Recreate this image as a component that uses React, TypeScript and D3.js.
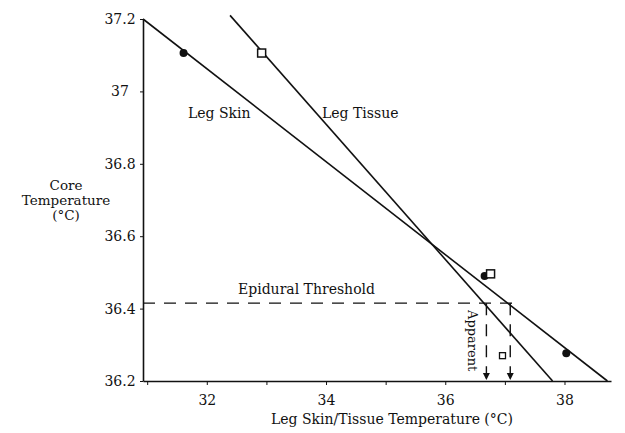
import React, { useEffect, useRef } from "react";
import * as d3 from "d3";

// regression lines (endpoints)
const skinLine = [
  { x: 30.93, y: 37.2 },
  { x: 38.72, y: 36.2 },
];
const tissueLine = [
  { x: 32.39, y: 37.21 },
  { x: 37.8, y: 36.2 },
];

// measured points
const skinPoints = [
  { x: 31.61, y: 37.106 },
  { x: 36.66, y: 36.49 },
  { x: 38.03, y: 36.277 },
];
const tissuePoints = [
  { x: 32.92, y: 37.106 },
  { x: 36.76, y: 36.496 },
];
const smallSquare = [{ x: 36.96, y: 36.27 }];

const threshold = 36.415;
const thresholdEnd = 37.12;
const apparentX = [36.69, 37.09];

const xTicks = [31, 32, 33, 34, 35, 36, 37, 38];
const xTickLabels = [32, 34, 36, 38];
const yTicks = [36.2, 36.4, 36.6, 36.8, 37, 37.2];

const FONT = "DejaVu Serif";

function App() {
  const svgRef = useRef(null);

  useEffect(() => {
    const svg = d3.select(svgRef.current);
    svg.selectAll("*").remove();

    const xScale = d3.scaleLinear().domain([30.93, 38.78]).range([143, 611]);
    const yScale = d3.scaleLinear().domain([36.2, 37.2]).range([381, 19]);

    svg
      .append("defs")
      .append("marker")
      .attr("id", "arrow")
      .attr("viewBox", "0 0 10 10")
      .attr("refX", 10)
      .attr("refY", 5)
      .attr("markerWidth", 7)
      .attr("markerHeight", 9)
      .attr("markerUnits", "userSpaceOnUse")
      .attr("orient", "auto")
      .append("path")
      .attr("d", "M0,0L10,5L0,10Z")
      .attr("fill", "#111");

    // x axis
    const xAxis = d3
      .axisBottom(xScale)
      .tickValues(xTicks)
      .tickSize(4)
      .tickSizeOuter(0)
      .tickFormat((d) => (xTickLabels.includes(d) ? String(d) : ""));
    const gx = svg
      .append("g")
      .attr("transform", `translate(0,${yScale(36.2)})`)
      .call(xAxis);
    gx.select(".domain").attr("stroke", "#111").attr("stroke-width", 1.6);
    gx.selectAll(".tick line").attr("stroke", "#111");
    gx.selectAll(".tick text")
      .attr("font-family", FONT)
      .attr("font-size", 14)
      .attr("fill", "#111")
      .attr("dy", "1.2em");

    // y axis
    const yAxis = d3
      .axisLeft(yScale)
      .tickValues(yTicks)
      .tickSize(3)
      .tickSizeOuter(0)
      .tickFormat(d3.format(""));
    const gy = svg
      .append("g")
      .attr("transform", `translate(${xScale(30.93)},0)`)
      .call(yAxis);
    gy.select(".domain").attr("stroke", "#111").attr("stroke-width", 1.6);
    gy.selectAll(".tick line").attr("stroke", "#111");
    gy.selectAll(".tick text")
      .attr("font-family", FONT)
      .attr("font-size", 14)
      .attr("fill", "#111")
      .attr("text-anchor", "middle")
      .attr("x", -23);

    const line = d3
      .line()
      .x((d) => xScale(d.x))
      .y((d) => yScale(d.y));

    [skinLine, tissueLine].forEach((l) => {
      svg
        .append("path")
        .attr("d", line(l))
        .attr("fill", "none")
        .attr("stroke", "#111")
        .attr("stroke-width", 1.6);
    });

    // epidural threshold
    svg
      .append("line")
      .attr("x1", xScale(30.93))
      .attr("x2", xScale(thresholdEnd))
      .attr("y1", yScale(threshold))
      .attr("y2", yScale(threshold))
      .attr("stroke", "#111")
      .attr("stroke-width", 1.4)
      .attr("stroke-dasharray", "12,9");

    apparentX.forEach((v) => {
      svg
        .append("line")
        .attr("x1", xScale(v))
        .attr("x2", xScale(v))
        .attr("y1", yScale(threshold))
        .attr("y2", yScale(36.2) - 1)
        .attr("stroke", "#111")
        .attr("stroke-width", 1.4)
        .attr("stroke-dasharray", "12,9")
        .attr("marker-end", "url(#arrow)");
    });

    // points
    svg
      .selectAll(".skin")
      .data(skinPoints)
      .enter()
      .append("circle")
      .attr("cx", (d) => xScale(d.x))
      .attr("cy", (d) => yScale(d.y))
      .attr("r", 4)
      .attr("fill", "#111");

    svg
      .selectAll(".tissue")
      .data(tissuePoints)
      .enter()
      .append("rect")
      .attr("x", (d) => xScale(d.x) - 4)
      .attr("y", (d) => yScale(d.y) - 4)
      .attr("width", 8)
      .attr("height", 8)
      .attr("fill", "#fff")
      .attr("stroke", "#111")
      .attr("stroke-width", 1.5);

    svg
      .selectAll(".small")
      .data(smallSquare)
      .enter()
      .append("rect")
      .attr("x", (d) => xScale(d.x) - 3)
      .attr("y", (d) => yScale(d.y) - 3)
      .attr("width", 6)
      .attr("height", 6)
      .attr("fill", "#fff")
      .attr("stroke", "#111")
      .attr("stroke-width", 1.3);

    // labels
    const txt = (x, y, s, size = 14, anchor = "start") =>
      svg
        .append("text")
        .attr("x", x)
        .attr("y", y)
        .attr("font-family", FONT)
        .attr("font-size", size)
        .attr("fill", "#111")
        .attr("text-anchor", anchor)
        .text(s);

    txt(188, 118, "Leg Skin");
    txt(322, 118, "Leg Tissue");
    txt(238, 294, "Epidural Threshold");
    txt(66, 190, "Core", 13.5, "middle");
    txt(66, 205, "Temperature", 13.5, "middle");
    txt(66, 220, "(°C)", 13.5, "middle");
    txt(392, 424, "Leg Skin/Tissue Temperature (°C)", 14, "middle");
    txt(0, 0, "Apparent", 13).attr(
      "transform",
      `translate(468,310) rotate(90)`
    );
  }, []);

  return (
    <svg
      ref={svgRef}
      width={625}
      height={433}
      style={{ position: "absolute", left: 0, top: 0, background: "#fff" }}
    />
  );
}

export default App;
